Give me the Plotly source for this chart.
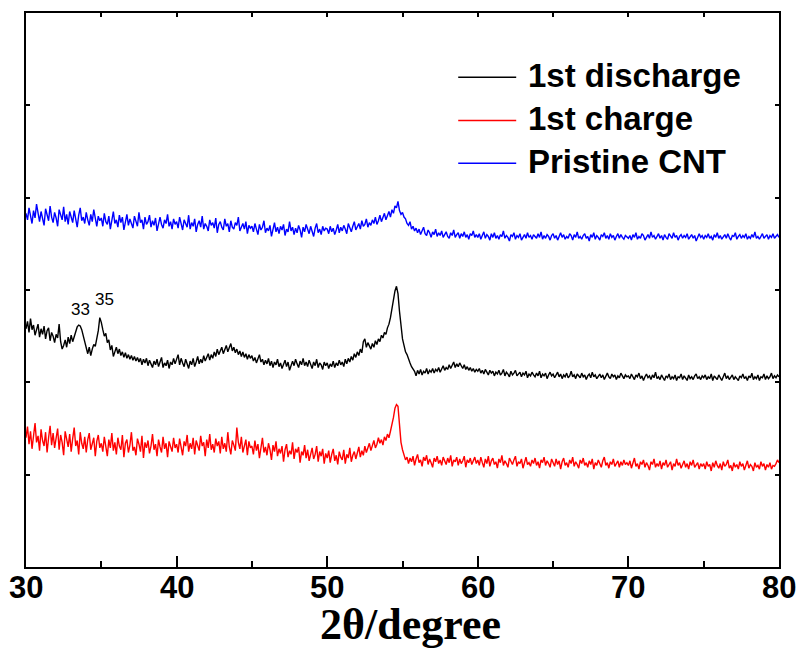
import numpy as np
import plotly.graph_objects as go

# XRD intensities (arb. units), sampled every 0.1 deg from 30 to 80 deg 2-theta
pristine_cnt = [
    383, 376, 389, 380, 372, 386, 378, 393, 381, 374, 385, 377, 370, 388, 382, 375, 391, 379, 373, 384,
    378, 369, 387, 380, 376, 390, 374, 382, 371, 385, 379, 373, 386, 377, 368, 381, 389, 375, 379, 372,
    384, 376, 370, 382, 374, 387, 378, 369, 380, 375,
    378, 369, 383, 374, 371, 380, 366, 377, 385, 372, 376, 368, 381, 373, 379, 365, 374, 382, 370, 377,
    372, 367, 380, 375, 369, 384, 373, 376, 366, 379, 371, 374, 381, 368, 375, 370, 378, 364, 373, 379,
    371, 367, 376, 372, 382, 369, 374, 366, 377, 371,
    374, 367, 379, 370, 365, 376, 372, 368, 381, 366, 373, 369, 377, 363, 371, 375, 368, 380, 366, 372,
    369, 364, 376, 370, 373, 367, 378, 362, 371, 374, 368, 365, 377, 369, 372, 363, 375, 368, 366, 373,
    370, 379, 364, 369, 372, 366, 374, 361, 370, 367,
    369, 363, 372, 366, 360, 371, 365, 368, 375, 362, 367, 364, 370, 358, 366, 373, 363, 368, 361, 369,
    365, 371, 359, 366, 363, 374, 364, 368, 360, 367, 362, 370, 365, 357, 368, 363, 371, 366, 361, 369,
    364, 358, 367, 372, 362, 366, 360, 369, 364, 367,
    366, 361, 369, 363, 367, 360, 365, 371, 362, 368, 364, 370, 366, 361, 372, 367, 363, 369, 374, 365,
    368, 372, 366, 375, 369, 371, 377, 368, 373, 370, 376, 372, 379, 371, 375, 381, 374, 378, 383, 376,
    380, 385, 379, 387, 383, 391, 389, 396, 386, 382,
    384, 379, 377, 372, 370, 374, 366, 369, 364, 367, 362, 366, 360, 364, 368, 361, 359, 365, 362, 357,
    363, 360, 366, 358, 362, 359, 364, 357, 361, 363, 358, 356, 362, 359, 365, 357, 360, 362, 356, 361,
    358, 363, 357, 360, 355, 361, 359, 364, 357, 360,
    357, 361, 355, 359, 363, 356, 360, 358, 354, 361, 357, 362, 356, 359, 355, 360, 358, 364, 356, 359,
    357, 353, 360, 358, 362, 355, 359, 357, 361, 354, 358, 360, 356, 362, 357, 359, 355, 360, 358, 356,
    361, 357, 363, 355, 359, 356, 360, 358, 354, 359,
    361, 356, 359, 354, 358, 362, 357, 360, 355, 358, 356, 361, 359, 354, 360, 357, 363, 356, 358, 355,
    359, 361, 356, 358, 353, 360, 357, 362, 355, 359, 357, 354, 360, 358, 362, 356, 359, 355, 361, 357,
    359, 354, 358, 361, 356, 360, 357, 355, 359, 357,
    356, 359, 354, 360, 357, 362, 355, 358, 356, 361, 359, 354, 358, 360, 356, 363, 357, 359, 355, 358,
    361, 356, 359, 354, 360, 357, 355, 361, 358, 356, 362, 357, 359, 354, 358, 360, 356, 359, 357, 361,
    355, 358, 360, 356, 359, 353, 358, 361, 357, 359,
    355, 359, 357, 361, 356, 358, 354, 360, 357, 362, 356, 359, 355, 358, 360, 356, 361, 357, 354, 359,
    358, 362, 355, 358, 360, 356, 359, 357, 361, 355, 358, 356, 360, 357, 363, 356, 358, 355, 359, 361,
    356, 358, 360, 355, 359, 357, 361, 356, 358, 360,
    357,
]

first_discharge = [
    258, 266, 254, 269, 257, 262, 251, 259, 263, 249, 258, 252, 261, 247, 256, 259, 245, 254, 250, 243,
    252, 248, 263, 244, 236, 240, 246, 238, 249, 242, 251, 244, 250, 256, 260, 262, 261, 257, 250, 243,
    236, 231, 238, 229, 236, 241, 239, 248, 256, 270,
    265, 257, 250, 253, 243, 246, 235, 240, 228, 233, 238, 231, 236, 229, 233, 227, 232, 226, 230, 225,
    229, 224, 228, 223, 227, 222, 226, 219, 225, 221, 226, 218, 224, 220, 216, 223, 219, 225, 217, 222,
    227, 216, 221, 218, 224, 215, 222, 219, 226, 220,
    224, 230, 219, 226, 221, 217, 225, 220, 215, 223, 219, 226, 217, 222, 228, 220, 225, 221, 229, 223,
    227, 231, 224, 230, 226, 233, 228, 236, 230, 234, 238, 231, 236, 240, 233, 237, 242, 234, 238, 232,
    236, 230, 234, 228, 233, 227, 231, 225, 230, 226,
    229, 223, 227, 221, 226, 230, 222, 225, 219, 224, 220, 226, 218, 223, 216, 222, 219, 225, 217, 221,
    215, 220, 224, 217, 222, 213, 219, 223, 218, 225, 220, 216, 223, 219, 226, 218, 222, 217, 224, 220,
    215, 222, 218, 225, 216, 221, 219, 214, 222, 218,
    221, 215, 220, 217, 223, 216, 221, 218, 224, 219, 222, 217, 225, 220, 226, 222, 228, 224, 231, 227,
    233, 229, 236, 232, 244, 247, 238, 243, 240, 236, 242, 238, 245, 241, 247, 244, 251, 248, 254, 252,
    259, 263, 270, 281, 292, 299, 304, 296, 277, 259,
    247, 240, 233, 230, 224, 221, 217, 214, 212, 207, 213, 209, 214, 208, 212, 210, 215, 209, 213, 211,
    215, 210, 214, 212, 216, 211, 214, 218, 213, 216, 214, 219, 215, 218, 222, 216, 220, 217, 221, 218,
    215, 219, 214, 217, 213, 216, 212, 215, 211, 214,
    212, 215, 210, 213, 209, 214, 211, 208, 213, 210, 212, 207, 211, 209, 213, 208, 210, 214, 207, 211,
    209, 206, 212, 208, 210, 213, 207, 209, 211, 206, 210, 208, 212, 205, 209, 207, 211, 208, 206, 210,
    207, 212, 205, 209, 207, 210, 204, 208, 211, 207,
    209, 205, 208, 211, 206, 209, 204, 208, 206, 210, 205, 207, 212, 206, 208, 204, 209, 207, 205, 210,
    206, 208, 203, 207, 209, 205, 211, 206, 208, 204, 207, 209, 205, 208, 203, 207, 210, 206, 204, 209,
    206, 208, 203, 207, 205, 210, 206, 204, 208, 206,
    207, 204, 209, 205, 203, 208, 206, 210, 204, 207, 202, 206, 209, 205, 207, 203, 208, 205, 211, 204,
    206, 203, 208, 205, 202, 207, 205, 209, 203, 206, 204, 208, 202, 206, 205, 209, 203, 207, 205, 202,
    208, 204, 206, 203, 207, 209, 204, 206, 203, 207,
    205, 208, 203, 206, 204, 209, 202, 207, 205, 203, 208, 205, 202, 206, 210, 204, 207, 203, 205, 208,
    203, 206, 204, 202, 207, 205, 209, 204, 206, 202, 207, 205, 210, 203, 206, 204, 208, 202, 206, 205,
    209, 203, 207, 204, 206, 210, 204, 207, 205, 208,
    206,
]

first_charge = [
    140, 152, 133, 147, 128, 144, 156, 135, 142, 126, 149, 137, 131, 146, 124, 140, 153, 132, 145, 129,
    138, 150, 127, 143, 135, 121, 147, 136, 130, 144, 125, 139, 151, 131, 137, 122, 146, 134, 128, 141,
    124, 138, 145, 127, 133, 140, 120, 136, 143, 129,
    134, 125, 141, 131, 120, 138, 129, 145, 126, 135, 122, 140, 131, 127, 143, 119, 134, 138, 124, 132,
    146, 126, 130, 121, 139, 133, 125, 142, 118, 135, 129, 137, 123, 131, 144, 127, 133, 120, 138, 130,
    124, 141, 128, 134, 119, 136, 131, 125, 140, 129,
    133, 124, 139, 129, 121, 136, 131, 143, 125, 134, 128, 140, 122, 137, 130, 126, 142, 131, 135, 120,
    138, 129, 144, 127, 133, 124, 139, 131, 136, 123, 141, 128, 134, 125, 146, 130, 122, 137, 132, 126,
    151, 135, 128, 141, 124, 133, 138, 121, 136, 129,
    131, 122, 137, 126, 133, 118, 129, 140, 124, 130, 121, 134, 127, 116, 132, 125, 136, 120, 128, 123,
    131, 114, 127, 133, 119, 126, 122, 135, 117, 128, 124, 130, 113, 125, 121, 132, 118, 127, 115, 124,
    129, 117, 122, 131, 114, 125, 120, 128, 112, 123,
    118, 126, 113, 122, 128, 115, 121, 111, 125, 119, 116, 127, 112, 122, 118, 129, 114, 121, 125, 117,
    123, 130, 119, 126, 121, 131, 124, 128, 134, 126, 131, 137, 129, 133, 140, 134, 138, 132, 141, 137,
    144, 140, 147, 153, 162, 172, 176, 174, 152, 135,
    127, 121, 116, 119, 112, 118, 114, 120, 110, 117, 122, 113, 116, 109, 119, 115, 121, 111, 117, 113,
    108, 118, 114, 120, 112, 116, 110, 119, 115, 111, 118, 113, 121, 109, 116, 114, 119, 110, 117, 112,
    115, 120, 108, 116, 113, 118, 111, 115, 119, 112,
    116, 110, 119, 113, 108, 117, 112, 120, 109, 115, 118, 111, 114, 107, 117, 113, 121, 110, 115, 112,
    108, 118, 114, 111, 116, 120, 109, 114, 112, 117, 107, 115, 119, 111, 113, 109, 116, 112, 118, 110,
    114, 107, 116, 113, 119, 110, 115, 112, 108, 117,
    113, 109, 117, 111, 115, 106, 114, 118, 110, 113, 108, 116, 112, 119, 109, 114, 111, 107, 116, 112,
    118, 110, 113, 108, 115, 111, 117, 106, 113, 110, 116, 112, 108, 115, 119, 110, 113, 107, 114, 111,
    117, 109, 112, 115, 108, 114, 110, 116, 111, 113,
    110, 115, 107, 113, 118, 109, 112, 106, 114, 111, 116, 108, 113, 110, 105, 114, 111, 117, 108, 112,
    109, 115, 106, 113, 110, 116, 108, 111, 114, 105, 112, 109, 117, 110, 113, 107, 111, 115, 108, 112,
    106, 114, 110, 116, 108, 111, 113, 106, 112, 109,
    112, 106, 114, 109, 111, 104, 113, 108, 115, 110, 107, 112, 105, 114, 109, 111, 116, 107, 110, 104,
    113, 108, 111, 106, 114, 109, 112, 105, 110, 115, 107, 111, 109, 104, 113, 108, 110, 106, 114, 109,
    112, 105, 111, 108, 113, 106, 110, 109, 112, 116,
    113,
]

series = [
    ("1st discharge", first_discharge, "#000000"),
    ("1st charge", first_charge, "#ff0000"),
    ("Pristine CNT", pristine_cnt, "#0000ff"),
]

peak_labels = [("33", 33.6, 279), ("35", 35.2, 290)]

x_tick_values = [30, 40, 50, 60, 70, 80]
x_tick_labels = ["30", "40", "50", "60", "70", "80"]

X_MIN, X_MAX = 30, 80
Y_MIN, Y_MAX = 0, 600

fig = go.Figure()
for name, vals, color in series:
    two_theta = np.linspace(X_MIN, X_MAX, len(vals))
    fig.add_trace(go.Scatter(
        x=two_theta, y=vals, mode="lines", name=name,
        line=dict(color=color, width=1.4), showlegend=False, hoverinfo="skip",
    ))

# empty trace on the top axis so its tick marks are drawn
fig.add_trace(go.Scatter(x=[X_MIN, X_MAX], y=[None, None], xaxis="x2",
                         showlegend=False, hoverinfo="skip"))

fig.update_layout(
    width=799, height=648,
    margin=dict(l=26, r=20, t=13, b=81),
    paper_bgcolor="white", plot_bgcolor="white",
    xaxis=dict(
        range=[X_MIN, X_MAX], tickvals=x_tick_values, automargin=False,
        showline=True, linecolor="black", linewidth=2, mirror=True,
        ticks="inside", ticklen=11, tickwidth=2, tickcolor="black",
        minor=dict(ticks="inside", ticklen=6, tickwidth=2, dtick=5, tickcolor="black"),
        showgrid=False, zeroline=False, showticklabels=False,
    ),
    xaxis2=dict(
        overlaying="x", side="top", range=[X_MIN, X_MAX], dtick=5, tick0=30,
        ticks="inside", ticklen=4, tickwidth=2, tickcolor="black", automargin=False,
        showticklabels=False, showgrid=False, zeroline=False, showline=False,
    ),
    yaxis=dict(
        range=[Y_MIN, Y_MAX], dtick=100, automargin=False,
        showline=True, linecolor="black", linewidth=2, mirror="ticks",
        ticks="inside", ticklen=4, tickwidth=2, tickcolor="black",
        showticklabels=False, showgrid=False, zeroline=False,
    ),
    showlegend=False,
)

# x tick labels, placed just under the axis line
for val, lab in zip(x_tick_values, x_tick_labels):
    fig.add_annotation(
        text=lab, x=val, xref="x", y=-0.037, yref="paper",
        xanchor="center", yanchor="middle", showarrow=False,
        font=dict(family="Liberation Sans, Arial, sans-serif", size=31,
                  color="black", weight="bold"),
    )

# axis title
fig.add_annotation(
    text="2θ/degree", xref="paper", yref="paper", x=0.511, y=-0.103,
    xanchor="center", yanchor="middle", showarrow=False,
    font=dict(family="Liberation Serif, Times New Roman, serif", size=44,
              color="black", weight="bold"),
)

# peak labels
for txt, px_, py_ in peak_labels:
    fig.add_annotation(text=txt, x=px_, y=py_, xref="x", yref="y",
                       showarrow=False, xanchor="center", yanchor="middle",
                       font=dict(family="Liberation Sans, Arial", size=17, color="black"))

# legend block
legend_rows = [0.884, 0.806, 0.729]
for (name, _, color), ly in zip(series, legend_rows):
    fig.add_shape(type="line", xref="paper", yref="paper",
                  x0=0.574, x1=0.651, y0=ly, y1=ly,
                  line=dict(color=color, width=1.5))
    fig.add_annotation(text=name, xref="paper", yref="paper", x=0.664, y=ly,
                       xanchor="left", yanchor="middle", showarrow=False, yshift=2,
                       font=dict(family="Liberation Sans, Arial", size=33,
                                 color="black", weight="bold"))

fig.write_html("out.html", config={"displayModeBar": False})
